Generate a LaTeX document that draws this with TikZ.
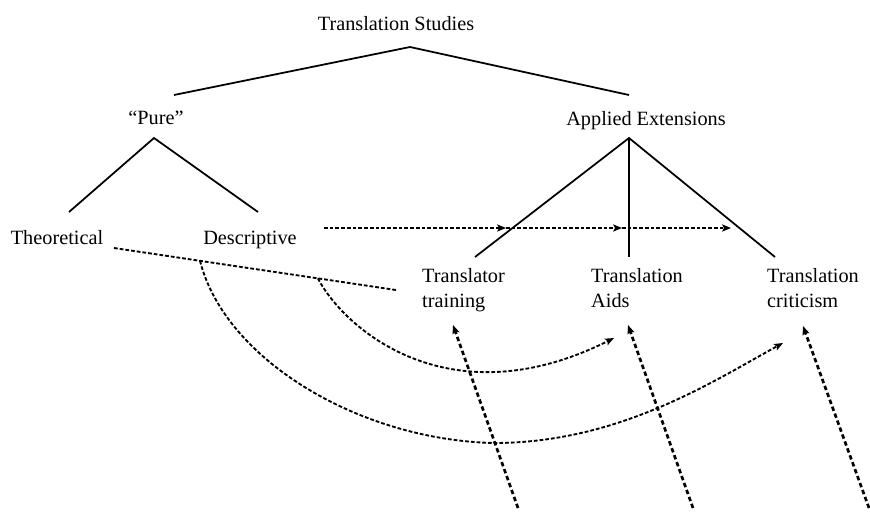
\documentclass[tikz,border=0pt]{standalone}
\usepackage{fontspec}
\setmainfont{Liberation Serif}
\usetikzlibrary{arrows.meta}
\begin{document}
\begin{tikzpicture}[x=0.03cm, y=-0.03cm,
    term/.style={inner sep=0pt, font=\fontsize{17.3}{21.3}\selectfont},
    branch/.style={line width=1.5pt},
    dotted link/.style={line width=1.6pt, dash pattern=on 3.2pt off 1.7pt},
    dashed link/.style={line width=2.3pt, dash pattern=on 3.8pt off 2.5pt},
    arrowtip/.style={-{Stealth[length=7.5pt, width=6pt, inset=1.5pt]}}]

  \useasboundingbox (0,0) rectangle (870,521);

  % === Labels of the tree ===
  \node[term, anchor=base] (ts) at (396,30) {Translation Studies};
  \node[term, anchor=base] (pure) at (156,124) {“Pure”};
  \node[term, anchor=base] (appl) at (646,125) {Applied Extensions};
  \node[term, anchor=base] (theo) at (57,244) {Theoretical};
  \node[term, anchor=base] (desc) at (250,244) {Descriptive};
  \node[term, anchor=north west, align=left] (trtr) at (422,268) {Translator\\training};
  \node[term, anchor=north west, align=left] (aids) at (591,268) {Translation\\Aids};
  \node[term, anchor=north west, align=left] (crit) at (767,268) {Translation\\criticism};

  % === Forks and line ends ===
  \coordinate (tsfork) at (410,47);
  \coordinate (purein) at (174,95);
  \coordinate (applin) at (629,95);
  \coordinate (purefork) at (154,138);
  \coordinate (theoin) at (69,212);
  \coordinate (descin) at (258,212);
  \coordinate (applfork) at (629,138);
  \coordinate (trtrin) at (475,257);
  \coordinate (aidsin) at (629,257);
  \coordinate (critin) at (775,257);

  % === Tree ===
  \draw[branch] (purein) -- (tsfork) -- (applin);
  \draw[branch] (theoin) -- (purefork) -- (descin);
  \draw[branch] (trtrin) -- (applfork) -- (critin);
  \draw[branch] (applfork) -- (aidsin);

  % === Dotted row from Descriptive ===
  \coordinate (descout) at (324,228);
  \coordinate (rowa) at (506,228);
  \coordinate (rowb) at (622,228);
  \coordinate (rowc) at (731,228);
  \draw[dotted link, arrowtip] (descout) -- (rowa);
  \draw[dotted link, arrowtip] (rowa) -- (rowb);
  \draw[dotted link, arrowtip] (rowb) -- (rowc);

  % === Dotted line from Theoretical, with two curved offshoots ===
  \coordinate (theoout) at (114,248);
  \coordinate (trtrleft) at (396,290);
  \draw[dotted link] (theoout) -- (trtrleft)
    coordinate[pos=0.305] (splitb) coordinate[pos=0.723] (splita);

  \coordinate (aidstip) at (614,338);
  \coordinate (crittip) at (783,343);
  \draw[dotted link, arrowtip] (splita)
    .. controls (345,330) and (450,420) .. (aidstip);
  \draw[dotted link, arrowtip] (splitb)
    .. controls (225,360) and (360,440) .. (494,443)
    .. controls (620,443) and (715,380) .. (crittip);

  % === Dashed arrows coming up from below ===
  \coordinate (trtrfoot) at (518,508);
  \coordinate (trtrtip) at (453,325);
  \coordinate (aidsfoot) at (693,508);
  \coordinate (aidsup) at (628,325);
  \coordinate (critfoot) at (869,508);
  \coordinate (critup) at (803,326);
  \draw[dashed link, arrowtip] (trtrfoot) -- (trtrtip);
  \draw[dashed link, arrowtip] (aidsfoot) -- (aidsup);
  \draw[dashed link, arrowtip] (critfoot) -- (critup);

\end{tikzpicture}
\end{document}
